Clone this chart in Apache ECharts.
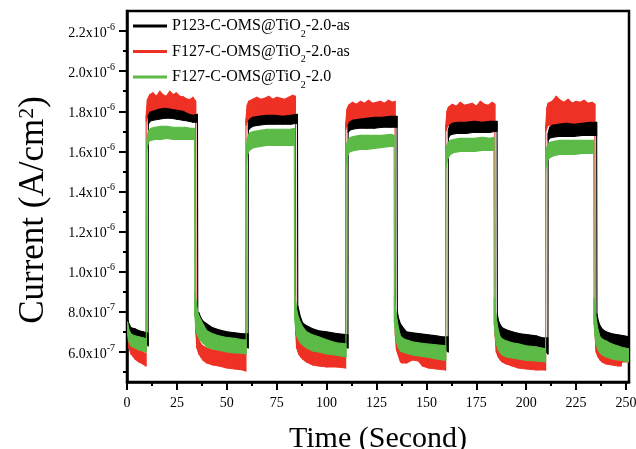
<!DOCTYPE html>
<html>
<head>
<meta charset="utf-8">
<script src="https://cdn.jsdelivr.net/npm/echarts@6/dist/echarts.min.js"></script>
<style>html,body{margin:0;padding:0;background:#fff}#c{width:636px;height:449px}</style>
</head>
<body>
<div id="c"></div>
<script>
// Values. Current in units of 1e-7 A/cm^2; each trace is drawn as a noisy band between low and high envelopes.
const UNIT = 1e-7;
const seriesNames = ['P123-C-OMS@TiO2-2.0-as', 'F127-C-OMS@TiO2-2.0-as', 'F127-C-OMS@TiO2-2.0'];

const blackTime = [0.3,1,2,4,6,8,10,10.6,
  10.7,11.5,13,16,19,22,25,28,31,33,35.3,
  35.45,36,37,38,40,43,46,50,54,58,60.7,
  60.8,61.5,63,66,70,74,78,82,85.4,
  85.55,86,87,88,90,93,96,100,105,110.7,
  110.8,111.5,113,116,120,124,128,132,135.3,
  135.45,136,137,138,140,143,147,151,155,158,160.9,
  161,161.7,163,166,170,174,178,182,185.4,
  185.55,186,187,188,190,193,197,201,205,208,210.9,
  211,211.7,213,216,220,224,228,232,235.3,
  235.45,236,237,238,240,243,246,249,251.5];
const blackHigh = [7.6,7.4,7.2,7.15,7.05,7.0,6.95,6.9,
  17.8,17.95,18.0,18.1,18.15,18.1,18.05,18.0,17.85,17.8,17.85,
  8.0,7.95,7.7,7.55,7.4,7.2,7.1,7.0,6.95,6.9,6.9,
  17.5,17.6,17.7,17.75,17.8,17.8,17.75,17.8,17.85,
  8.3,8.1,7.7,7.45,7.3,7.15,7.05,7.0,6.92,6.85,
  17.3,17.45,17.55,17.6,17.65,17.7,17.7,17.75,17.75,
  8.0,7.7,7.4,7.25,7.0,6.95,6.9,6.85,6.8,6.75,6.75,
  17.1,17.3,17.4,17.45,17.45,17.5,17.45,17.5,17.5,
  7.9,7.6,7.35,7.2,7.1,7.0,6.9,6.85,6.8,6.7,6.7,
  16.9,17.2,17.3,17.35,17.4,17.35,17.4,17.45,17.45,
  7.9,7.6,7.3,7.15,7.0,6.9,6.85,6.8,6.75];
const blackLow = [7.1,6.8,6.7,6.65,6.6,6.55,6.5,6.3,
  17.35,17.5,17.55,17.6,17.65,17.65,17.6,17.55,17.5,17.45,17.45,
  7.6,7.2,7.0,6.9,6.75,6.6,6.55,6.5,6.45,6.4,6.2,
  17.05,17.15,17.25,17.3,17.35,17.35,17.35,17.35,17.4,
  7.5,7.2,6.95,6.8,6.7,6.6,6.55,6.5,6.45,6.2,
  16.95,17.05,17.1,17.15,17.15,17.15,17.2,17.2,17.2,
  7.3,6.9,6.7,6.6,6.45,6.4,6.35,6.3,6.25,6.2,6.0,
  16.65,16.8,16.85,16.9,16.9,16.95,16.95,16.95,17.0,
  7.2,6.8,6.6,6.5,6.4,6.35,6.3,6.25,6.2,6.15,5.9,
  16.55,16.65,16.7,16.75,16.75,16.75,16.8,16.8,16.8,
  7.2,6.8,6.6,6.5,6.4,6.35,6.3,6.25,6.2];

const redTime = [0.3,1,2,4,6,8,9.5,
  9.6,10.2,11.4,13,14.7,16.4,18,19.7,21.4,23.1,24.7,26.4,28.1,29.7,31.4,33.1,34.4,
  34.55,35,36,37,38,40,43,46,50,54,58,59.5,
  59.6,60.2,61,63,65,67,69,71,73,75,77,79,81,83,84.4,
  84.55,85,86,87,88,90,93,96,100,105,109.5,
  109.6,110.2,111,113,115,117,119,121,123,125,127,129,131,133,134.3,
  134.45,135,136,137,138,140,143,146,148,151,155,159.6,
  159.7,160.3,161,163,165,167,169,171,173,175,177,179,181,183,184.3,
  184.45,185,186,187,188,190,193,196,200,205,209.7,
  209.8,210.4,211,213,215,217,219,221,223,225,227,229,231,233,234.4,
  234.55,235,236,237,238,240,243,246,247.5,248,251.5];
const redHigh = [7.0,6.6,6.4,6.2,6.1,6.0,5.9,
  17.8,18.58,18.83,18.92,18.75,19.0,18.83,18.75,19.0,18.83,18.92,18.75,18.72,18.62,18.58,18.7,18.5,
  7.8,7.0,6.6,6.4,6.3,6.2,6.1,6.05,6.0,5.95,5.9,5.9,
  17.6,18.3,18.5,18.6,18.7,18.6,18.65,18.75,18.6,18.7,18.65,18.6,18.7,18.8,18.75,
  7.8,7.0,6.6,6.4,6.3,6.2,6.1,6.0,6.0,5.95,5.9,
  17.4,18.1,18.3,18.45,18.35,18.5,18.4,18.55,18.4,18.45,18.5,18.4,18.55,18.45,18.5,
  7.7,6.9,6.5,6.3,6.2,6.1,6.05,6.4,6.0,5.95,5.9,5.9,
  17.3,18.0,18.2,18.35,18.25,18.45,18.3,18.35,18.4,18.25,18.5,18.35,18.3,18.45,18.35,
  7.7,6.8,6.5,6.3,6.2,6.1,6.0,5.95,5.9,5.9,5.85,
  17.3,18.2,18.4,18.5,18.75,18.55,18.45,18.6,18.4,18.5,18.45,18.55,18.4,18.45,18.35,
  7.7,6.8,6.5,6.3,6.2,6.1,6.0,5.95,5.95,6.5,6.5];
const redLow = [6.9,6.2,5.9,5.65,5.5,5.4,5.3,
  17.5,17.7,17.8,17.85,17.9,17.9,17.9,17.9,17.85,17.85,17.85,17.8,17.8,17.75,17.75,17.7,17.7,
  6.9,6.2,5.9,5.75,5.6,5.45,5.35,5.3,5.2,5.15,5.1,5.05,
  17.3,17.5,17.6,17.7,17.7,17.7,17.7,17.7,17.7,17.7,17.7,17.7,17.7,17.7,17.7,
  6.9,6.2,5.9,5.75,5.65,5.5,5.35,5.3,5.25,5.25,5.2,
  17.1,17.3,17.4,17.45,17.5,17.5,17.5,17.5,17.5,17.5,17.5,17.5,17.5,17.5,17.5,
  6.8,6.1,5.8,5.5,5.45,5.45,5.6,5.55,5.3,5.2,5.15,5.1,
  17.0,17.2,17.3,17.35,17.4,17.4,17.4,17.4,17.4,17.4,17.4,17.4,17.4,17.4,17.4,
  6.8,6.0,5.75,5.6,5.5,5.4,5.3,5.2,5.15,5.1,5.1,
  17.0,17.2,17.3,17.3,17.35,17.35,17.35,17.35,17.35,17.35,17.35,17.35,17.35,17.35,17.35,
  6.8,6.0,5.75,5.6,5.5,5.4,5.35,5.3,5.3,5.5,5.5];

const greenTime = [0.3,1,2,4,6,8,9.7,
  9.8,10.3,11,12,14,17,20,23,26,29,32,33.8,
  33.95,34.5,35,36,37,38,40,43,46,50,54,58,59.7,
  59.8,60.3,61,62,64,67,70,74,78,82,83.8,
  83.95,84.5,85,86,87,88,90,93,96,100,105,109.7,
  109.8,110.3,111,112,114,117,120,124,128,132,133.8,
  133.95,134.5,135,136,137,138,140,143,146,150,155,159.7,
  159.8,160.3,161,162,164,167,170,174,178,182,183.8,
  183.95,184.5,185,186,187,188,190,193,196,200,205,209.7,
  209.8,210.3,211,212,214,217,220,224,228,232,233.8,
  233.95,234.5,235,236,237,238,240,243,246,249,251.5];
const greenHigh = [7.5,7.1,6.9,6.8,6.75,6.7,6.65,
  16.4,16.85,17.05,17.15,17.2,17.25,17.25,17.2,17.2,17.2,17.15,17.15,
  9.0,8.6,8.2,7.8,7.6,7.4,7.05,6.9,6.8,6.72,6.68,6.6,6.6,
  16.3,16.65,16.85,16.95,17.0,17.05,17.1,17.1,17.1,17.1,17.15,
  9.0,8.5,8.1,7.7,7.45,7.25,7.0,6.85,6.75,6.6,6.45,6.4,
  16.2,16.45,16.6,16.7,16.75,16.8,16.8,16.8,16.8,16.85,16.8,
  8.8,8.2,7.8,7.2,6.8,6.7,6.6,6.5,6.45,6.4,6.35,6.3,
  16.0,16.3,16.45,16.55,16.6,16.65,16.65,16.65,16.7,16.65,16.7,
  8.7,8.1,7.7,7.1,6.75,6.65,6.55,6.45,6.4,6.3,6.25,6.15,
  15.9,16.2,16.35,16.45,16.5,16.55,16.55,16.55,16.55,16.55,16.55,
  8.7,8.1,7.7,7.1,6.75,6.65,6.55,6.4,6.3,6.2,6.15];
const greenLow = [7.0,6.5,6.3,6.2,6.1,6.05,6.0,
  15.9,16.3,16.5,16.55,16.6,16.6,16.65,16.6,16.6,16.6,16.6,16.6,
  7.8,7.2,6.9,6.7,6.55,6.45,6.25,6.15,6.08,6.0,5.95,5.93,5.9,
  15.4,15.8,16.0,16.1,16.2,16.25,16.3,16.3,16.3,16.3,16.3,
  7.7,7.1,6.8,6.6,6.45,6.35,6.2,6.05,6.0,5.9,5.83,5.75,
  15.3,15.7,15.9,16.0,16.05,16.1,16.1,16.15,16.2,16.25,16.25,
  7.5,6.9,6.5,6.2,6.05,6.0,5.93,5.85,5.8,5.75,5.65,5.58,
  15.2,15.5,15.7,15.85,15.95,16.0,16.0,16.0,16.05,16.05,16.05,
  7.4,6.8,6.4,6.1,5.95,5.85,5.75,5.7,5.65,5.58,5.55,5.5,
  15.1,15.4,15.6,15.7,15.8,15.85,15.85,15.85,15.9,15.9,15.9,
  7.4,6.8,6.4,6.1,5.95,5.85,5.75,5.65,5.6,5.55,5.5];

// Axis ticks (A/cm^2 and seconds)
const yMajorTicks = [6e-7, 8e-7, 1.0e-6, 1.2e-6, 1.4e-6, 1.6e-6, 1.8e-6, 2.0e-6, 2.2e-6];
const yMinorTicks = [5e-7, 7e-7, 9e-7, 1.1e-6, 1.3e-6, 1.5e-6, 1.7e-6, 1.9e-6, 2.1e-6];
const xMajorTicks = [0, 25, 50, 75, 100, 125, 150, 175, 200, 225, 250];
const xMinorTicks = [12.5, 37.5, 62.5, 87.5, 112.5, 137.5, 162.5, 187.5, 212.5, 237.5];

const colors = {black: '#000000', red: '#EE3124', green: '#5CBA47'};
const FONT = '"Liberation Serif", "Times New Roman", Times, serif';

function band(name, color, t, lo, hi) {
  const data = t.map((x, i) => [x, lo[i] * UNIT, hi[i] * UNIT]);
  return {
    type: 'custom', name: name, data: data, clip: true, silent: true, animation: false,
    encode: {x: 0, y: [1, 2]},
    itemStyle: {color: color},
    renderItem: function (params, api) {
      const i = params.dataIndexInside;
      if (i >= params.dataInsideLength - 1) return null;
      const pts = [
        api.coord([api.value(0, i), api.value(1, i)]),
        api.coord([api.value(0, i + 1), api.value(1, i + 1)]),
        api.coord([api.value(0, i + 1), api.value(2, i + 1)]),
        api.coord([api.value(0, i), api.value(2, i)])
      ];
      return {type: 'polygon', shape: {points: pts}, silent: true,
        style: {fill: color, stroke: color, lineWidth: 1.1, lineJoin: 'round'}};
    }
  };
}

const series = [
  band(seriesNames[1], colors.red, redTime, redLow, redHigh),
  band(seriesNames[0], colors.black, blackTime, blackLow, blackHigh),
  band(seriesNames[2], colors.green, greenTime, greenLow, greenHigh)
];

const chart = echarts.init(document.getElementById('c'), null, {renderer: 'canvas'});
chart.setOption({
  animation: false,
  backgroundColor: '#fff',
  textStyle: {fontFamily: FONT, color: '#000'},
  grid: {left: 127, top: 11, right: 7, bottom: 67, show: true, borderColor: '#000', borderWidth: 2.5,
    containLabel: false, outerBoundsMode: 'none'},
  legend: {
    orient: 'vertical', left: 133, top: 17, padding: 0, itemWidth: 34, itemHeight: 3, itemGap: 3.5,
    data: seriesNames.map(n => ({name: n, icon: 'rect'})),
    formatter: n => n.replace('TiO2', 'TiO{sub|2}'),
    textStyle: {fontFamily: FONT, fontSize: 16, color: '#000', lineHeight: 18,
      rich: {sub: {fontFamily: FONT, fontSize: 10, verticalAlign: 'bottom', lineHeight: 10, padding: [0,0,-4,0]}}}
  },
  xAxis: [{
    type: 'value', min: 0, max: 251.5,
    name: 'Time (Second)', nameLocation: 'middle', nameGap: 42,
    nameTextStyle: {fontFamily: FONT, fontSize: 30, color: '#000'},
    axisLine: {show: true, onZero: false, lineStyle: {color: '#000', width: 2.5}},
    axisTick: {show: true, inside: false, length: 8, lineStyle: {width: 2, color: '#000'}, customValues: xMajorTicks},
    axisLabel: {fontFamily: FONT, fontSize: 14, color: '#000', margin: 14, customValues: xMajorTicks},
    splitLine: {show: false}
  }, {
    type: 'value', min: 0, max: 251.5, position: 'bottom',
    axisLine: {show: false}, splitLine: {show: false}, axisLabel: {show: false},
    axisTick: {show: true, length: 4, lineStyle: {width: 2, color: '#000'}, customValues: xMinorTicks}
  }],
  yAxis: [{
    type: 'value', min: 4.5e-7, max: 2.3e-6,
    name: 'Current (A/cm{sup|2})', nameLocation: 'middle', nameGap: 76, nameRotate: 90,
    nameTextStyle: {fontFamily: FONT, fontSize: 35, color: '#000', padding: [0, 27, 0, 0],
      rich: {sup: {fontFamily: FONT, fontSize: 22, verticalAlign: 'top', lineHeight: 22}}},
    axisLine: {show: true, onZero: false, lineStyle: {color: '#000', width: 2.5}},
    axisTick: {show: true, length: 8, lineStyle: {width: 2, color: '#000'}, customValues: yMajorTicks},
    axisLabel: {fontFamily: FONT, fontSize: 14, color: '#000', margin: 12, customValues: yMajorTicks,
      formatter: v => {
        const e = v >= 9.99e-7 ? -6 : -7;
        return '{m|' + (v / Math.pow(10, e)).toFixed(1) + 'x10}{s|' + e + '}';
      },
      rich: {m: {fontFamily: FONT, fontSize: 14, lineHeight: 18, verticalAlign: 'bottom'},
             s: {fontFamily: FONT, fontSize: 10, lineHeight: 10, verticalAlign: 'top'}}},
    splitLine: {show: false}
  }, {
    type: 'value', min: 4.5e-7, max: 2.3e-6, position: 'left',
    axisLine: {show: false}, splitLine: {show: false}, axisLabel: {show: false},
    axisTick: {show: true, length: 4, lineStyle: {width: 2, color: '#000'}, customValues: yMinorTicks}
  }],
  series: series
});
</script>
</body>
</html>
